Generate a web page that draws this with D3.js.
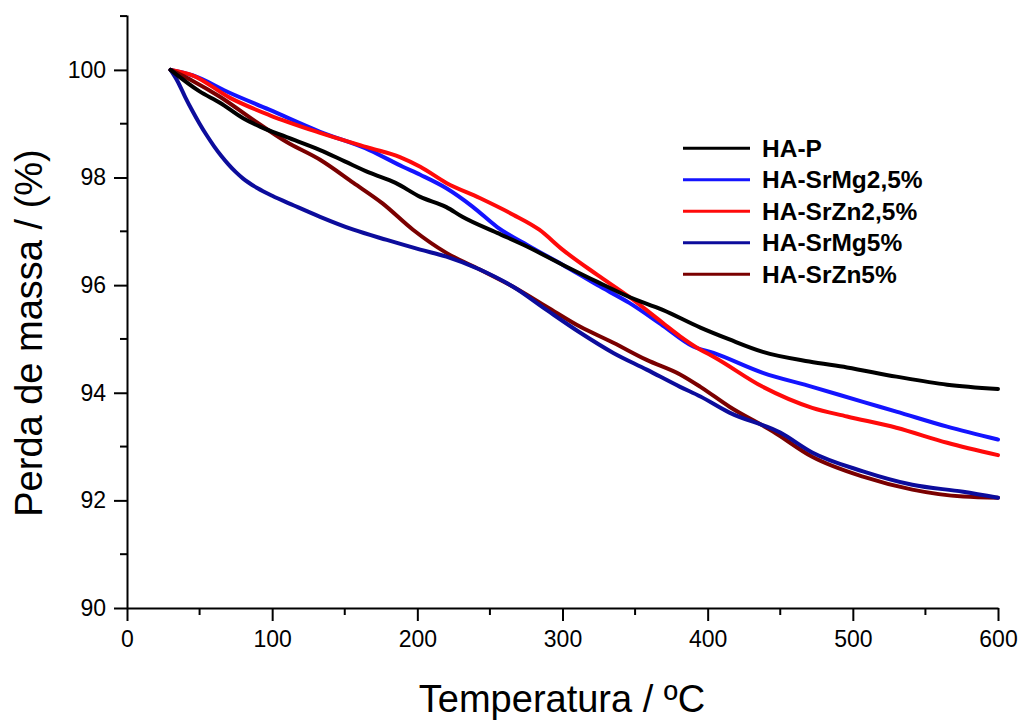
<!DOCTYPE html>
<html>
<head>
<meta charset="utf-8">
<script src="https://cdn.jsdelivr.net/npm/d3@7"></script>
<style>
  html, body { margin: 0; padding: 0; background: #fff; }
  svg { display: block; font-family: "Liberation Sans", Arial, sans-serif; }
</style>
</head>
<body>
<svg id="chart" width="1021" height="722"></svg>
<script>
// ---- Data (temperature °C, mass %) ----
const seriesNames = ["HA-P", "HA-SrMg2,5%", "HA-SrZn2,5%", "HA-SrMg5%", "HA-SrZn5%"];
const seriesColors = ["#000000", "#1414ff", "#ff0a0a", "#0c0c9c", "#7a0000"];

const haP = [[30,100],[50,99.6],[64,99.39],[80,99.1],[92,98.94],[110,98.75],[133,98.51],[150,98.3],[167,98.09],[185,97.9],[202,97.64],[220,97.45],[231,97.27],[255,96.97],[273,96.75],[300,96.38],[324,96.06],[346,95.78],[369,95.54],[395,95.21],[415,94.99],[438,94.76],[470,94.58],[496,94.47],[530,94.30],[565,94.15],[600,94.07]];
const haSrMg25 = [[30,100],[45,99.9],[71,99.57],[98,99.26],[133,98.85],[167,98.51],[190,98.2],[202,98.05],[220,97.8],[238,97.46],[255,97.08],[278,96.71],[300,96.38],[324,96.0],[346,95.67],[369,95.25],[390,94.86],[404,94.74],[438,94.37],[472,94.11],[507,93.83],[530,93.65],[565,93.37],[600,93.13]];
const haSrZn25 = [[30,100],[45,99.9],[71,99.48],[98,99.16],[133,98.83],[167,98.55],[188,98.38],[202,98.2],[220,97.9],[243,97.62],[266,97.31],[284,97.03],[300,96.66],[324,96.19],[346,95.78],[369,95.3],[381,95.05],[395,94.8],[404,94.67],[438,94.11],[472,93.72],[496,93.56],[530,93.35],[565,93.07],[600,92.84]];
const haSrMg5 = [[30,100],[35,99.78],[40,99.5],[45,99.24],[50,99.0],[55,98.78],[60,98.58],[65,98.4],[70,98.24],[75,98.1],[80,97.98],[90,97.8],[100,97.66],[115,97.48],[133,97.27],[156,97.03],[179,96.84],[202,96.66],[220,96.53],[243,96.29],[266,95.97],[289,95.54],[312,95.12],[335,94.74],[358,94.43],[381,94.11],[395,93.93],[415,93.63],[450,93.26],[472,92.89],[507,92.54],[541,92.29],[576,92.16],[600,92.05]];
const haSrZn5 = [[30,100],[45,99.8],[64,99.5],[87,99.07],[110,98.66],[133,98.33],[156,97.9],[176,97.52],[197,97.03],[220,96.6],[243,96.29],[266,95.97],[289,95.6],[312,95.23],[335,94.93],[358,94.61],[381,94.34],[395,94.11],[415,93.74],[445,93.28],[472,92.81],[507,92.44],[541,92.2],[576,92.07],[600,92.05]];

const xTicks = [0, 100, 200, 300, 400, 500, 600];
const yTicks = [90, 92, 94, 96, 98, 100];
const xMinorTicks = [50, 150, 250, 350, 450, 550];
const yMinorTicks = [91, 93, 95, 97, 99, 101];
const xTitle = "Temperatura / ºC";
const yTitle = "Perda de massa / (%)";

// ---- Drawing ----
const svg = d3.select("#chart");
const x = d3.scaleLinear().domain([0, 600]).range([127, 998]);
const y = d3.scaleLinear().domain([90, 101.02]).range([608, 15]);

const seriesData = [haP, haSrMg25, haSrZn25, haSrMg5, haSrZn5];
const drawOrder = [1, 2, 4, 3, 0];
const line = d3.line().x(d => x(d[0])).y(d => y(d[1])).curve(d3.curveMonotoneX);

drawOrder.forEach(i => {
  svg.append("path")
    .datum(seriesData[i])
    .attr("fill", "none")
    .attr("stroke", seriesColors[i])
    .attr("stroke-width", 4)
    .attr("stroke-linejoin", "round")
    .attr("stroke-linecap", "round")
    .attr("d", line);
});

// X axis
const xAxis = svg.append("g").attr("transform", "translate(0,608)");
xAxis.call(d3.axisBottom(x).tickValues(xTicks).tickSize(13).tickPadding(9).tickSizeOuter(0));
xAxis.append("g").selectAll("line").data(xMinorTicks).join("line")
  .attr("x1", d => x(d)).attr("x2", d => x(d)).attr("y1", 0).attr("y2", 7)
  .attr("stroke", "#000").attr("stroke-width", 2);

// Y axis
const yAxis = svg.append("g").attr("transform", "translate(127,0)");
yAxis.call(d3.axisLeft(y).tickValues(yTicks).tickSize(13).tickPadding(8).tickSizeOuter(0));
yAxis.append("g").selectAll("line").data(yMinorTicks).join("line")
  .attr("y1", d => y(d)).attr("y2", d => y(d)).attr("x1", 0).attr("x2", -7)
  .attr("stroke", "#000").attr("stroke-width", 2);

[xAxis, yAxis].forEach(g => {
  g.select(".domain").attr("stroke", "#000").attr("stroke-width", 2);
  g.selectAll(".tick line").attr("stroke", "#000").attr("stroke-width", 2);
  g.selectAll(".tick text")
    .attr("font-family", "'Liberation Sans', Arial, sans-serif")
    .attr("font-size", 23).attr("fill", "#000");
});
xAxis.selectAll(".tick text").attr("dy", "0.72em");

// Axis titles
svg.append("text")
  .attr("x", 562).attr("y", 712)
  .attr("text-anchor", "middle")
  .attr("font-size", 38).attr("fill", "#000")
  .text(xTitle);

svg.append("text")
  .attr("transform", "translate(42,333) rotate(-90)")
  .attr("text-anchor", "middle")
  .attr("font-size", 38).attr("fill", "#000")
  .text(yTitle);

// Legend
const legend = svg.append("g");
seriesNames.forEach((name, i) => {
  const ly = 148.3 + i * 31.5;
  legend.append("line")
    .attr("x1", 683).attr("x2", 750).attr("y1", ly).attr("y2", ly)
    .attr("stroke", seriesColors[i]).attr("stroke-width", 3);
  legend.append("text")
    .attr("x", 762).attr("y", ly + 8.4)
    .attr("font-size", 24.5).attr("font-weight", "bold").attr("fill", "#000")
    .text(name);
});
</script>
</body>
</html>
